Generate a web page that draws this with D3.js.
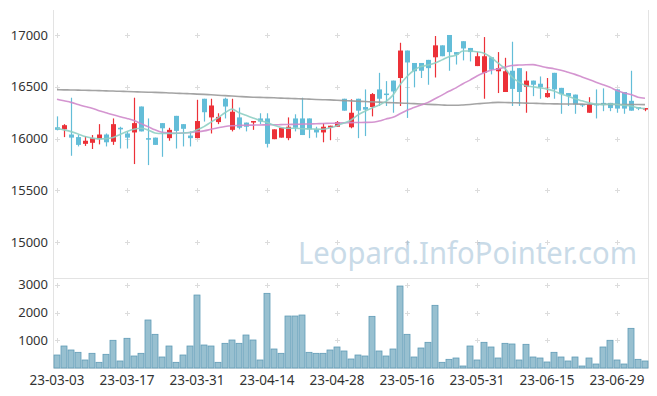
<!DOCTYPE html>
<html>
<head>
<meta charset="utf-8">
<script src="https://cdn.jsdelivr.net/npm/d3@7"></script>
<style>
  body { margin: 0; background: #fff; }
  svg { display: block; font-family: "Noto Sans", "DejaVu Sans", sans-serif; }
</style>
</head>
<body>
<svg id="chart" width="657" height="396"></svg>
<script>
// trading days shown (23-03-03 .. 23-07-05)
var dates = ['23-03-03','23-03-06','23-03-07','23-03-08','23-03-09','23-03-10','23-03-13','23-03-14','23-03-15','23-03-16',
  '23-03-17','23-03-20','23-03-21','23-03-22','23-03-23','23-03-24','23-03-27','23-03-28','23-03-29','23-03-30',
  '23-03-31','23-04-03','23-04-04','23-04-05','23-04-06','23-04-07','23-04-10','23-04-11','23-04-12','23-04-13',
  '23-04-14','23-04-17','23-04-18','23-04-19','23-04-20','23-04-21','23-04-24','23-04-25','23-04-26','23-04-27',
  '23-04-28','23-05-02','23-05-03','23-05-04','23-05-08','23-05-09','23-05-10','23-05-11','23-05-12','23-05-15',
  '23-05-16','23-05-17','23-05-18','23-05-19','23-05-22','23-05-23','23-05-24','23-05-25','23-05-26','23-05-30',
  '23-05-31','23-06-01','23-06-02','23-06-05','23-06-07','23-06-08','23-06-09','23-06-12','23-06-13','23-06-14',
  '23-06-15','23-06-16','23-06-19','23-06-20','23-06-21','23-06-22','23-06-23','23-06-26','23-06-27','23-06-28',
  '23-06-29','23-06-30','23-07-03','23-07-04','23-07-05'];

var openP = [16110,16090,16040,16015,15950,15960,15995,16040,15970,16105,
  16050,16060,16310,16005,16010,16150,16005,16220,16140,16030,
  16005,16385,16205,16160,16385,16085,16205,16155,16155,16195,
  16195,15995,16010,16005,16195,16195,16195,16090,16060,16105,
  16115,16385,16110,16385,16305,16305,16475,16435,16560,16585,
  16850,16730,16730,16760,16785,16900,17000,16835,16940,16875,
  16700,16635,16785,16650,16450,16655,16680,16500,16560,16530,
  16400,16635,16490,16440,16425,16335,16250,16335,16345,16345,
  16475,16450,16365,16305,16285];
var closeP = [16085,16130,16010,15940,15980,16005,16040,15965,16140,16090,
  16010,16150,16070,15990,15940,16100,16085,16075,16095,16005,
  16170,16255,16320,16210,16310,16260,16105,16115,16170,16165,
  15950,16090,16105,16115,16105,16035,16090,16060,16115,16125,
  16160,16270,16250,16270,16280,16430,16385,16430,16455,16850,
  16735,16650,16655,16680,16900,16795,16835,16810,16870,16835,
  16795,16795,16665,16680,16650,16480,16450,16560,16520,16495,
  16440,16475,16430,16410,16330,16325,16335,16325,16325,16295,
  16290,16290,16270,16290,16295];
var highP = [16215,16140,16395,16035,16025,16035,16140,16050,16195,16115,
  16070,16395,16310,16195,16010,16150,16105,16220,16140,16070,
  16375,16385,16385,16245,16395,16385,16300,16155,16170,16245,
  16245,16090,16105,16205,16235,16395,16195,16115,16150,16125,
  16170,16385,16380,16385,16475,16440,16635,16555,16560,16925,
  16850,16730,16730,16760,16990,16900,17000,16835,16940,16875,
  16835,16980,16785,16835,16780,16935,16680,16650,16560,16600,
  16585,16635,16490,16440,16425,16335,16400,16475,16485,16345,
  16475,16450,16655,16305,16295];
var lowP = [16080,16015,15835,15925,15930,15900,15945,15925,15940,15905,
  15905,15755,16070,15745,15940,15825,15980,15905,15925,15925,
  16005,16165,16050,16140,16195,16070,16090,16070,16085,16140,
  15915,15995,16010,15985,16070,16035,16005,16010,15965,15985,
  16115,16270,16100,16005,16025,16215,16315,16315,16250,16315,
  16200,16495,16585,16520,16590,16795,16655,16715,16755,16745,
  16700,16385,16620,16440,16450,16315,16315,16250,16410,16385,
  16395,16385,16240,16315,16240,16305,16250,16195,16265,16265,
  16250,16240,16270,16275,16265];
var volume = [469,794,650,566,289,530,205,494,1000,253,
  1072,433,530,1733,1216,397,794,205,469,794,
  2635,830,794,205,891,1011,891,1191,1011,289,
  2696,686,530,1877,1877,1913,566,530,530,650,
  758,614,325,469,433,1865,614,433,686,2960,
  1216,397,722,927,2263,205,313,361,72,794,
  289,927,758,361,891,867,289,855,397,361,
  217,566,397,253,397,72,361,144,758,1000,
  289,144,1432,313,253];
var ma5 = [16100,16085,16068,16045,16020,16005,15998,16000,16012,16040,
  16068,16090,16100,16084,16055,16050,16050,16052,16055,16060,
  16085,16116,16160,16200,16250,16285,16250,16225,16200,16175,
  16155,16130,16108,16100,16100,16096,16094,16092,16091,16105,
  16125,16150,16180,16230,16265,16295,16325,16360,16420,16520,
  16600,16660,16695,16710,16730,16760,16790,16805,16845,16845,
  16838,16825,16785,16730,16675,16595,16545,16510,16500,16490,
  16478,16460,16430,16410,16385,16365,16345,16332,16328,16335,
  16330,16322,16315,16298,16290];
var ma20 = [16380,16365,16350,16330,16310,16293,16270,16250,16230,16212,
  16195,16175,16145,16116,16085,16062,16055,16052,16055,16060,
  16066,16075,16090,16105,16118,16125,16128,16130,16131,16132,
  16133,16134,16135,16137,16138,16140,16142,16144,16146,16148,
  16150,16152,16155,16156,16157,16158,16170,16190,16206,16240,
  16275,16300,16325,16350,16385,16420,16457,16490,16530,16565,
  16605,16635,16660,16672,16690,16705,16710,16713,16714,16700,
  16685,16675,16660,16640,16620,16595,16570,16545,16520,16495,
  16465,16440,16425,16400,16390];
var ma60 = [16473,16471,16470,16468,16467,16465,16463,16461,16459,16457,
  16455,16453,16450,16448,16446,16444,16441,16438,16436,16433,
  16430,16427,16423,16419,16415,16411,16407,16403,16400,16398,
  16396,16394,16391,16389,16386,16384,16381,16378,16376,16374,
  16370,16367,16364,16361,16358,16355,16352,16349,16346,16344,
  16341,16338,16335,16331,16328,16325,16322,16322,16325,16330,
  16336,16342,16347,16350,16349,16347,16345,16343,16341,16339,
  16337,16336,16335,16334,16334,16333,16332,16332,16331,16331,
  16330,16330,16329,16329,16328];

var priceTicks = [15000, 15500, 16000, 16500, 17000];
var volTicks = [1000, 2000, 3000];
var labelDates = ['23-03-03','23-03-17','23-03-31','23-04-14','23-04-28','23-05-16','23-05-31','23-06-15','23-06-29'];

var svg = d3.select('#chart');
var plotL = 53.5, plotR = 648.5, plotT = 10, plotMid = 278, plotB = 368;

var x = d3.scaleBand().domain(dates).range([plotL, plotR]).padding(0);
var cx = d => x(d) + x.bandwidth() / 2;
var y = d3.scaleLinear().domain([14656, 17241]).range([plotMid, plotT]);
var yv = d3.scaleLinear().domain([0, 3250]).range([plotB, plotMid]);

var upColor = '#ec3138', downColor = '#63bdd8';

// frame
var frame = svg.append('g').attr('class', 'frame').attr('stroke', '#e3e3e3').attr('fill', 'none');
frame.append('line').attr('x1', plotL).attr('x2', plotL).attr('y1', plotT).attr('y2', plotB);
frame.append('line').attr('x1', plotR).attr('x2', plotR).attr('y1', plotT).attr('y2', plotB);
frame.append('line').attr('x1', plotL).attr('x2', plotR).attr('y1', plotMid + 0.5).attr('y2', plotMid + 0.5);
frame.append('line').attr('x1', plotL).attr('x2', plotR).attr('y1', plotB + 0.5).attr('y2', plotB + 0.5);

// little crosses at grid points
var crosses = svg.append('g').attr('class', 'crosses').attr('stroke', '#dcdcdc').attr('stroke-width', 1);
var gridY = priceTicks.map(v => y(v)).concat(volTicks.map(v => yv(v)));
labelDates.forEach(function(d){
    gridY.forEach(function(gy){
        var px = Math.round(cx(d)) + 0.5, py = Math.round(gy) + 0.5;
        crosses.append('line').attr('x1', px - 2.5).attr('x2', px + 2.5).attr('y1', py).attr('y2', py);
        crosses.append('line').attr('x1', px).attr('x2', px).attr('y1', py - 2.5).attr('y2', py + 2.5);
    });
});

// watermark
svg.append('text')
    .attr('x', 298).attr('y', 264)
    .attr('font-size', 31)
    .attr('fill', '#7aa6c6')
    .attr('opacity', 0.4)
    .attr('textLength', 339)
    .attr('lengthAdjust', 'spacingAndGlyphs')
    .text('Leopard.InfoPointer.com');

// volume bars
svg.append('g').attr('class', 'volume')
    .selectAll('rect')
    .data(dates)
    .enter()
    .append('rect')
    .attr('x', d => x(d) + 0.5)
    .attr('width', x.bandwidth() - 1)
    .attr('y', (d, i) => yv(volume[i]))
    .attr('height', (d, i) => plotB - yv(volume[i]))
    .attr('fill', '#98c0d0')
    .attr('stroke', '#5f9bb6')
    .attr('stroke-width', 0.8);

// candles
var candles = svg.append('g').attr('class', 'candles')
    .selectAll('g')
    .data(dates)
    .enter()
    .append('g')
    .attr('fill', (d, i) => closeP[i] >= openP[i] ? upColor : downColor)
    .attr('stroke', (d, i) => closeP[i] >= openP[i] ? upColor : downColor);

candles.append('line')
    .attr('x1', d => Math.round(cx(d)) + 0.5)
    .attr('x2', d => Math.round(cx(d)) + 0.5)
    .attr('y1', (d, i) => y(highP[i]))
    .attr('y2', (d, i) => y(lowP[i]))
    .attr('stroke-width', 1.2);

candles.append('rect')
    .attr('x', d => Math.round(cx(d)) - 2)
    .attr('width', 5)
    .attr('y', (d, i) => y(Math.max(openP[i], closeP[i])))
    .attr('height', (d, i) => Math.max(1.5, Math.abs(y(openP[i]) - y(closeP[i]))))
    .attr('stroke', 'none');

// moving averages
var lines = [
    { vals: ma60, color: '#9a9a9a' },
    { vals: ma20, color: '#cf8acb' },
    { vals: ma5, color: '#8fcfc4' }
];
var lineGen = vals => d3.line()
    .x(d => cx(d))
    .y((d, i) => y(vals[i]))
    .curve(d3.curveMonotoneX)(dates);

svg.append('g').attr('class', 'ma')
    .selectAll('path')
    .data(lines)
    .enter()
    .append('path')
    .attr('d', d => lineGen(d.vals))
    .attr('fill', 'none')
    .attr('stroke', d => d.color)
    .attr('stroke-width', 1.6)
    .attr('opacity', 0.9);

// axis labels
svg.append('g').selectAll('text')
    .data(priceTicks)
    .enter()
    .append('text')
    .attr('x', 48).attr('y', d => y(d))
    .attr('dy', '0.35em')
    .attr('text-anchor', 'end')
    .attr('font-size', 13)
    .attr('fill', '#333')
    .text(d => d);

svg.append('g').selectAll('text')
    .data(volTicks)
    .enter()
    .append('text')
    .attr('x', 48).attr('y', d => yv(d))
    .attr('dy', '0.35em')
    .attr('text-anchor', 'end')
    .attr('font-size', 13)
    .attr('fill', '#333')
    .text(d => d);

svg.append('g').selectAll('text')
    .data(labelDates)
    .enter()
    .append('text')
    .attr('x', d => cx(d)).attr('y', 385)
    .attr('text-anchor', 'middle')
    .attr('font-size', 13.5)
    .attr('fill', '#333')
    .text(d => d);
</script>
</body>
</html>
